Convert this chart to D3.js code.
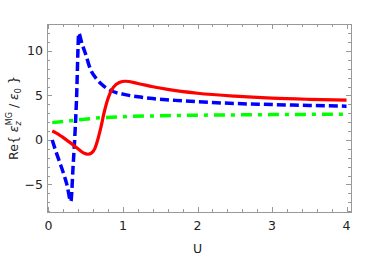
<!DOCTYPE html>
<html>
<head>
<meta charset="utf-8">
<script src="https://cdn.jsdelivr.net/npm/d3@7"></script>
<style>
  body { margin: 0; background: #fff; }
  svg { display: block; font-family: "DejaVu Sans", sans-serif; }
</style>
</head>
<body>
<svg id="chart" width="376" height="258"></svg>
<script>
// Curve samples (U, value)
const redU = [0.05, 0.1, 0.18, 0.25, 0.3, 0.36, 0.42, 0.47, 0.53, 0.58, 0.62, 0.66, 0.7, 0.75, 0.8, 0.87, 0.95, 1.03, 1.2, 1.4, 1.6, 2.0, 2.5, 3.0, 3.5, 4.0];
const redV = [1.0, 0.8, 0.37, -0.05, -0.35, -0.75, -1.15, -1.45, -1.6, -1.45, -1.0, 0.0, 1.3, 3.2, 4.7, 5.9, 6.45, 6.6, 6.35, 5.98, 5.68, 5.25, 4.92, 4.7, 4.57, 4.48];

const blueU = [0.05, 0.1, 0.15, 0.2, 0.25, 0.3, 0.33, 0.36, 0.38, 0.395, 0.405, 0.45, 0.5, 0.56, 0.65, 0.75, 0.85, 1.0, 1.2, 1.4, 1.7, 2.0, 2.5, 3.0, 3.5, 4.0];
const blueV = [0.0, -1.3, -2.5, -3.7, -5.1, -6.9, -3.0, 1.5, 5.5, 10.0, 12.0, 10.8, 9.6, 8.0, 6.8, 6.0, 5.5, 5.15, 4.85, 4.65, 4.45, 4.3, 4.1, 3.98, 3.88, 3.8];

const greenU = [0.05, 0.3, 0.7, 1.0, 1.5, 2.0, 3.0, 4.0];
const greenV = [1.95, 2.17, 2.5, 2.62, 2.72, 2.78, 2.85, 2.9];

const xTicks = [0, 1, 2, 3, 4];
const yTicks = [-5, 0, 5, 10];
const xLabel = 'U';

const svg = d3.select('#chart');
const m = { left: 47, right: 351, top: 24, bottom: 212 };

const x = d3.scaleLinear().domain([-0.02, 4.06]).range([m.left, m.right]);
const y = d3.scaleLinear().domain([-8.09, 13.03]).range([m.bottom, m.top]);

const frameColor = '#999';

// Clip for curves
svg.append('defs').append('clipPath').attr('id', 'plotClip')
  .append('rect')
  .attr('x', m.left).attr('y', m.top)
  .attr('width', m.right - m.left).attr('height', m.bottom - m.top);

// Minor ticks
const xMinor = d3.range(0, 4.01, 0.2).filter(v => Math.abs(v - Math.round(v)) > 1e-6);
const yMinor = d3.range(-8, 13.01, 1).filter(v => v % 5 !== 0);

const ticks = svg.append('g').attr('stroke', frameColor).attr('stroke-width', 1);
const tk = (x1, y1, x2, y2) => ticks.append('line')
  .attr('x1', x1).attr('y1', y1).attr('x2', x2).attr('y2', y2);

xTicks.forEach(v => {
  const px = Math.round(x(v)) + 0.5;
  tk(px, m.bottom, px, m.bottom - 5);
  tk(px, m.top, px, m.top + 5);
});
xMinor.forEach(v => {
  const px = Math.round(x(v)) + 0.5;
  tk(px, m.bottom, px, m.bottom - 3);
  tk(px, m.top, px, m.top + 3);
});
yTicks.forEach(v => {
  const py = Math.round(y(v)) + 0.5;
  tk(m.left, py, m.left + 5, py);
  tk(m.right, py, m.right - 5, py);
});
yMinor.forEach(v => {
  const py = Math.round(y(v)) + 0.5;
  tk(m.left, py, m.left + 3, py);
  tk(m.right, py, m.right - 3, py);
});

// Frame
svg.append('rect')
  .attr('x', m.left + 0.5).attr('y', m.top + 0.5)
  .attr('width', m.right - m.left).attr('height', m.bottom - m.top)
  .attr('fill', 'none')
  .attr('stroke', frameColor)
  .attr('stroke-width', 1);

// Tick labels
svg.append('g').selectAll('text')
  .data(xTicks)
  .enter()
  .append('text')
  .attr('x', d => x(d))
  .attr('y', m.bottom + 18)
  .attr('text-anchor', 'middle')
  .style('font-size', '12.5px')
  .style('fill', '#222')
  .text(d => d);

svg.append('g').selectAll('text')
  .data(yTicks)
  .enter()
  .append('text')
  .attr('x', m.left - 4)
  .attr('y', d => y(d) + 4.5)
  .attr('text-anchor', 'end')
  .style('font-size', '12.5px')
  .style('fill', '#222')
  .text(d => d < 0 ? '\u2212' + Math.abs(d) : d);

// Axis labels
svg.append('text')
  .attr('x', x(2))
  .attr('y', 253)
  .attr('text-anchor', 'middle')
  .style('font-size', '12.5px')
  .style('fill', '#222')
  .text(xLabel);

const yl = svg.append('text')
  .attr('transform', 'translate(17.5,118) rotate(-90)')
  .attr('text-anchor', 'middle')
  .style('font-size', '12.5px')
  .style('fill', '#222');
yl.append('tspan').text('Re{ ');
yl.append('tspan').style('font-style', 'italic').text('\u03b5');
yl.append('tspan').attr('dy', 3).style('font-size', '8px').style('font-style', 'italic').text('z');
yl.append('tspan').attr('dy', -9).attr('dx', -4).style('font-size', '8px').text('MG');
yl.append('tspan').attr('dy', 6).text(' / ');
yl.append('tspan').style('font-style', 'italic').text('\u03b5');
yl.append('tspan').attr('dy', 3).style('font-size', '8px').text('0');
yl.append('tspan').attr('dy', -3).text(' }');

// Curves
const line = d3.line()
  .x(d => x(d[0]))
  .y(d => y(d[1]))
  .curve(d3.curveMonotoneX);

const plot = svg.append('g').attr('clip-path', 'url(#plotClip)');

plot.append('path')
  .datum(d3.zip(greenU, greenV))
  .attr('d', line)
  .attr('fill', 'none')
  .attr('stroke', '#00ff00')
  .attr('stroke-width', 3.5)
  .attr('stroke-dasharray', '11,6,4,6');

plot.append('path')
  .datum(d3.zip(blueU, blueV))
  .attr('d', line)
  .attr('fill', 'none')
  .attr('stroke', '#0000ff')
  .attr('stroke-width', 3.5)
  .attr('stroke-dasharray', '9,4');

plot.append('path')
  .datum(d3.zip(redU, redV))
  .attr('d', line)
  .attr('fill', 'none')
  .attr('stroke', '#ff0000')
  .attr('stroke-width', 3.2);
</script>
</body>
</html>
